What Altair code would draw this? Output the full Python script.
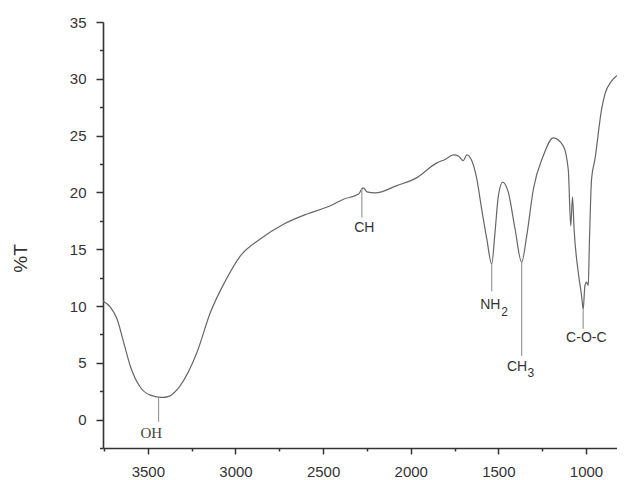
import altair as alt
import pandas as pd

# IR spectrum (wavenumber in cm-1, %T)
wavenumber = [3756, 3714, 3676, 3638, 3600, 3543, 3486, 3419, 3381, 3315,
              3220, 3144, 3058, 2973, 2859, 2726, 2592, 2462, 2384, 2298,
              2279, 2270, 2250, 2203, 2079, 1965, 1851, 1804, 1757, 1728,
              1700, 1680, 1652, 1623, 1595, 1566, 1538, 1519, 1500, 1475,
              1443, 1405, 1367, 1338, 1300, 1244, 1187, 1130, 1101, 1087,
              1077, 1068, 1044, 1025, 1016, 1006, 996, 987, 981, 968,
              949, 911, 892, 854, 823]
transmittance = [10.45, 9.9, 8.85, 6.8, 4.7, 2.85, 2.15, 1.95, 2.05, 3.0,
                 5.9, 9.4, 12.2, 14.4, 15.9, 17.2, 18.1, 18.8, 19.4, 19.85,
                 20.3, 20.4, 20.05, 19.95, 20.6, 21.3, 22.6, 22.9, 23.3, 23.2,
                 22.8, 23.3, 22.8, 21.2, 18.5, 15.9, 13.7, 16.5, 19.7, 20.9,
                 20.0, 16.8, 13.85, 16.2, 20.3, 23.2, 24.8, 24.1, 22.0, 17.05,
                 19.6, 16.8, 12.95, 10.9, 9.7, 11.8, 12.1, 11.8, 15.3, 21.2,
                 22.9, 27.3, 28.65, 29.8, 30.3]

# peak annotations (leader lines)
ann_x = [3439, 2279, 1538, 1367, 1016]
ann_y_top = [1.95, 20.3, 13.7, 13.85, 9.7]
ann_y_bottom = [-0.2, 17.8, 11.3, 5.6, 8.0]

# annotation texts
lab_text = ["CH", "NH", "CH", "C-O-C"]
lab_x = [2265, 1546, 1393, 998]
lab_y = [16.5, 9.73, 4.3, 6.8]
oh_text = ["OH"]
oh_x = [3480]
oh_y = [-1.65]
sub_text = ["2", "3"]
sub_x = [1464, 1314]
sub_y = [9.14, 3.74]

x_major = [3500, 3000, 2500, 2000, 1500, 1000]
x_minor = [3750, 3250, 2750, 2250, 1750, 1250]
y_major = [0, 5, 10, 15, 20, 25, 30, 35]
y_minor = [-2.5, 2.5, 7.5, 12.5, 17.5, 22.5, 27.5, 32.5]

FONT = "Liberation Sans"
AX = "#333333"
xscale = alt.Scale(domain=[3756, 823], nice=False, zero=False)
yscale = alt.Scale(domain=[-2.5, 35], nice=False, zero=False)

spec = pd.DataFrame({"w": wavenumber, "t": transmittance})

line = alt.Chart(spec).mark_line(color="#666666", strokeWidth=1.2, interpolate="monotone").encode(
    x=alt.X("w:Q", scale=xscale, axis=alt.Axis(
        title="", values=x_major, format="d", tickSize=6, orient="bottom",
        labelOverlap=False, labelFlush=False, grid=False,
        labelFont=FONT, labelFontSize=15, labelColor=AX, labelPadding=10,
        domainColor=AX, domainWidth=1.6, tickColor=AX, tickWidth=1.5)),
    y=alt.Y("t:Q", scale=yscale, axis=alt.Axis(
        title="%T", values=y_major, format="d", tickSize=7, orient="left",
        labelOverlap=False, labelFlush=False, grid=False,
        labelFont=FONT, labelFontSize=15, labelColor=AX, labelPadding=10,
        domainColor=AX, domainWidth=1.6, tickColor=AX, tickWidth=1.5,
        titleFont=FONT, titleFontSize=19, titleFontWeight="normal", titleColor=AX,
        titleAngle=270, titleX=-83, titleY=236, titleAlign="center", titleBaseline="middle")),
)

# minor ticks drawn by a second, label-less axis pair on the same scales
minor = alt.Chart(spec).mark_line(opacity=0).encode(
    x=alt.X("w:Q", scale=xscale, axis=alt.Axis(
        title="", values=x_minor, labels=False, domain=False, grid=False, orient="bottom",
        tickSize=3, tickColor=AX, tickWidth=1.5, offset=0)),
    y=alt.Y("t:Q", scale=yscale, axis=alt.Axis(
        title="", values=y_minor, labels=False, domain=False, grid=False, orient="left",
        tickSize=3.5, tickColor=AX, tickWidth=1.5, offset=0)),
)

ann = pd.DataFrame({"x": ann_x, "y1": ann_y_top, "y2": ann_y_bottom})
leaders = alt.Chart(ann).mark_rule(color="#9a9a9a", strokeWidth=1.2).encode(
    x=alt.X("x:Q", scale=xscale, axis=None), y=alt.Y("y1:Q", scale=yscale, axis=None), y2="y2:Q")

labs = pd.DataFrame({"text": lab_text, "x": lab_x, "y": lab_y})
labels = alt.Chart(labs).mark_text(font=FONT, fontSize=14, color=AX,
                                   align="center", baseline="alphabetic").encode(
    x=alt.X("x:Q", scale=xscale, axis=None), y=alt.Y("y:Q", scale=yscale, axis=None), text="text:N")

ohs = pd.DataFrame({"text": oh_text, "x": oh_x, "y": oh_y})
oh_label = alt.Chart(ohs).mark_text(font="Liberation Serif", fontSize=15, color="#444444",
                                    align="center", baseline="alphabetic").encode(
    x=alt.X("x:Q", scale=xscale, axis=None), y=alt.Y("y:Q", scale=yscale, axis=None), text="text:N")

subs = pd.DataFrame({"text": sub_text, "x": sub_x, "y": sub_y})
sub_labels = alt.Chart(subs).mark_text(font=FONT, fontSize=12, color=AX,
                                       align="center", baseline="alphabetic").encode(
    x=alt.X("x:Q", scale=xscale, axis=None), y=alt.Y("y:Q", scale=yscale, axis=None), text="text:N")

chart = alt.layer(line, minor, leaders, labels, oh_label, sub_labels).resolve_axis(
    x="independent", y="independent"
).resolve_scale(x="shared", y="shared").properties(
    width=514, height=426,
    padding={"left": 95, "top": 14, "right": 0, "bottom": 32},
    autosize="none",
    background="white",
).configure_view(stroke="transparent", strokeWidth=0).configure_axis(grid=False)

chart.save("out.html", embed_options={"renderer": "svg", "actions": False})
